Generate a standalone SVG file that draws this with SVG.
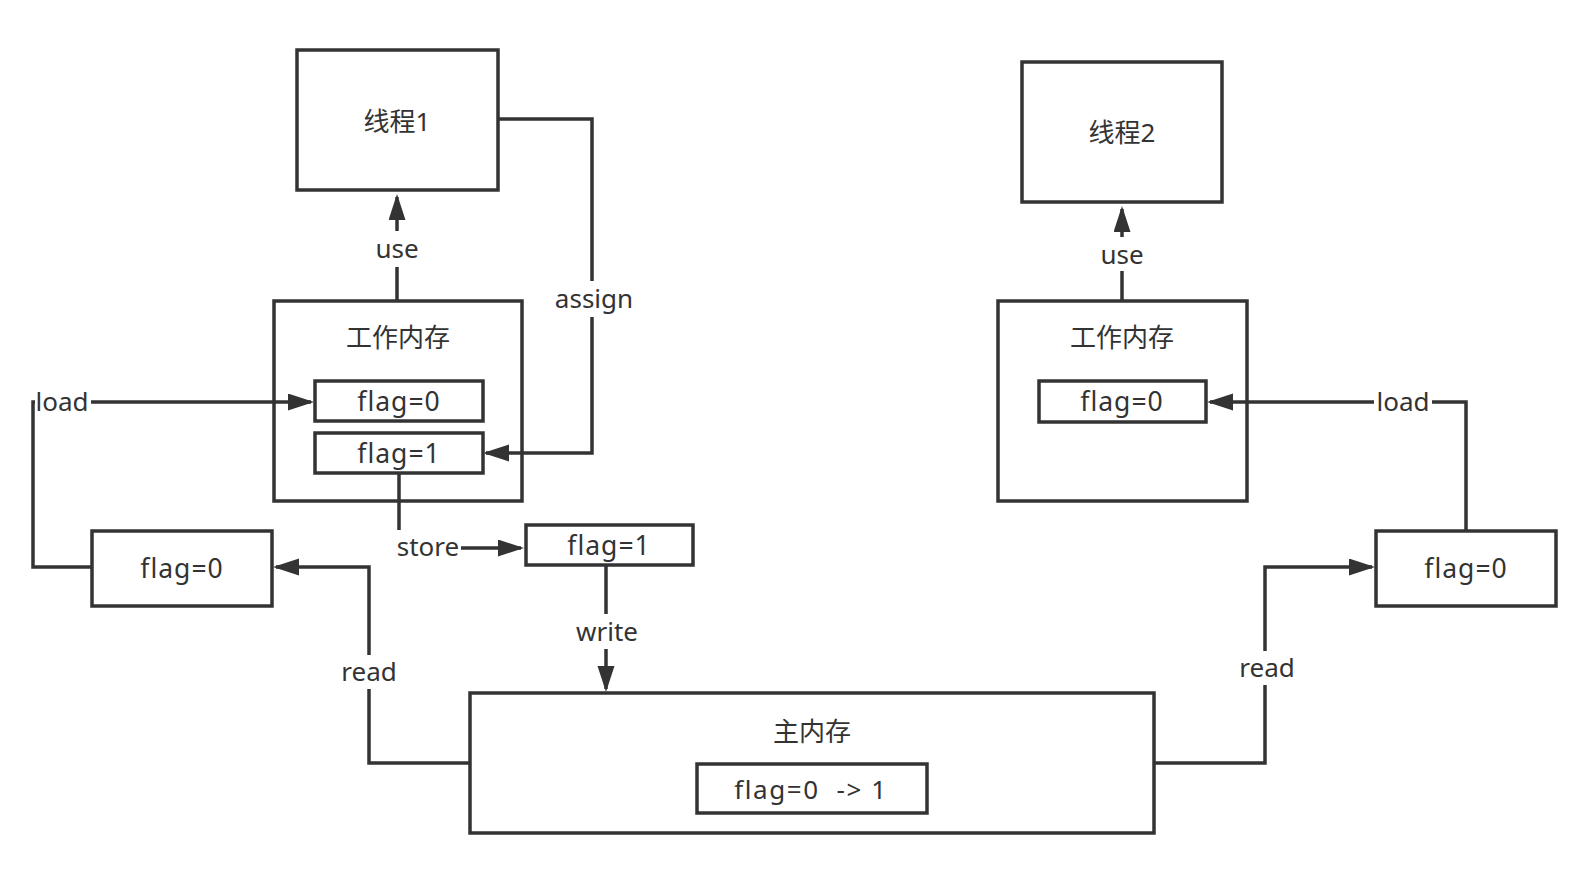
<svg xmlns="http://www.w3.org/2000/svg" width="1580" height="876" viewBox="0 0 1580 876">
<defs>
<marker id="arr" markerUnits="userSpaceOnUse" markerWidth="28" markerHeight="18" refX="23" refY="8.5" orient="auto">
<path d="M0,0 L26,8.5 L0,17 z" fill="#333"/>
</marker>
<style>
.box{fill:#fff;stroke:#333;stroke-width:3.5}
.t{font-family:"Noto Sans","Noto Sans CJK SC",sans-serif;font-size:26px;fill:#333;text-anchor:middle;dominant-baseline:central;white-space:pre}
.f{letter-spacing:1px;font-size:26.5px}
.ln{fill:none;stroke:#333;stroke-width:3.5}
.bg{fill:#fff}
</style>
</defs>
<rect width="1580" height="876" fill="#fff"/>

<g id="thread1">
<rect class="box" x="297" y="50" width="201" height="140"/>
<text class="t" x="397" y="121">线程1</text>
</g>
<g id="thread2">
<rect class="box" x="1022" y="62" width="200" height="140"/>
<text class="t" x="1122" y="132">线程2</text>
</g>
<g id="wm1">
<rect class="box" x="274" y="301" width="248" height="200"/>
<text class="t" x="398" y="337">工作内存</text>
</g>
<g id="wm1-flag0">
<rect class="box" x="315" y="381" width="168" height="40"/>
<text class="t f" x="399" y="401">flag=0</text>
</g>
<g id="wm1-flag1">
<rect class="box" x="315" y="433" width="168" height="40"/>
<text class="t f" x="399" y="453">flag=1</text>
</g>
<g id="wm2">
<rect class="box" x="998" y="301" width="249" height="200"/>
<text class="t" x="1122" y="337">工作内存</text>
</g>
<g id="wm2-flag0">
<rect class="box" x="1039" y="381" width="167" height="41"/>
<text class="t f" x="1122" y="401">flag=0</text>
</g>
<g id="left-flag0">
<rect class="box" x="92" y="531" width="180" height="75"/>
<text class="t f" x="182" y="568">flag=0</text>
</g>
<g id="store-flag1">
<rect class="box" x="526" y="525" width="167" height="40"/>
<text class="t f" x="609" y="545">flag=1</text>
</g>
<g id="right-flag0">
<rect class="box" x="1376" y="531" width="180" height="75"/>
<text class="t f" x="1466" y="568">flag=0</text>
</g>
<g id="main-memory">
<rect class="box" x="470" y="693" width="684" height="140"/>
<text class="t" x="812" y="731">主内存</text>
</g>
<g id="main-flag">
<rect class="box" x="697" y="764" width="230" height="49"/>
<text class="t" x="811" y="789" letter-spacing="1.6">flag=0  -&gt; 1</text>
</g>

<g id="connectors">
<path class="ln" d="M397,300 V197" marker-end="url(#arr)"/>
<path class="ln" d="M1122,301 V209" marker-end="url(#arr)"/>
<path class="ln" d="M498,119 H592 V453 H486" marker-end="url(#arr)"/>
<path class="ln" d="M92,567 H33 V402 H311" marker-end="url(#arr)"/>
<path class="ln" d="M399,474 V548 H521" marker-end="url(#arr)"/>
<path class="ln" d="M606,565 V689" marker-end="url(#arr)"/>
<path class="ln" d="M470,763 H369 V567 H276" marker-end="url(#arr)"/>
<path class="ln" d="M1154,763 H1265 V567 H1372" marker-end="url(#arr)"/>
<path class="ln" d="M1466,531 V402 H1210" marker-end="url(#arr)"/>
<rect class="bg" x="375" y="231" width="44" height="36"/>
<text class="t" x="397" y="248">use</text>
<rect class="bg" x="1100" y="237" width="44" height="34"/>
<text class="t" x="1122" y="254">use</text>
<rect class="bg" x="552" y="281" width="84" height="36"/>
<text class="t" x="594" y="298">assign</text>
<rect class="bg" x="35" y="385" width="56" height="34"/>
<text class="t" x="62" y="401">load</text>
<rect class="bg" x="395" y="530" width="66" height="36"/>
<text class="t" x="428" y="546">store</text>
<rect class="bg" x="575" y="614" width="66" height="35"/>
<text class="t" x="607" y="631">write</text>
<rect class="bg" x="342" y="655" width="54" height="34"/>
<text class="t" x="369" y="671">read</text>
<rect class="bg" x="1240" y="651" width="54" height="34"/>
<text class="t" x="1267" y="667">read</text>
<rect class="bg" x="1374" y="385" width="58" height="34"/>
<text class="t" x="1403" y="401">load</text>
</g>
</svg>
